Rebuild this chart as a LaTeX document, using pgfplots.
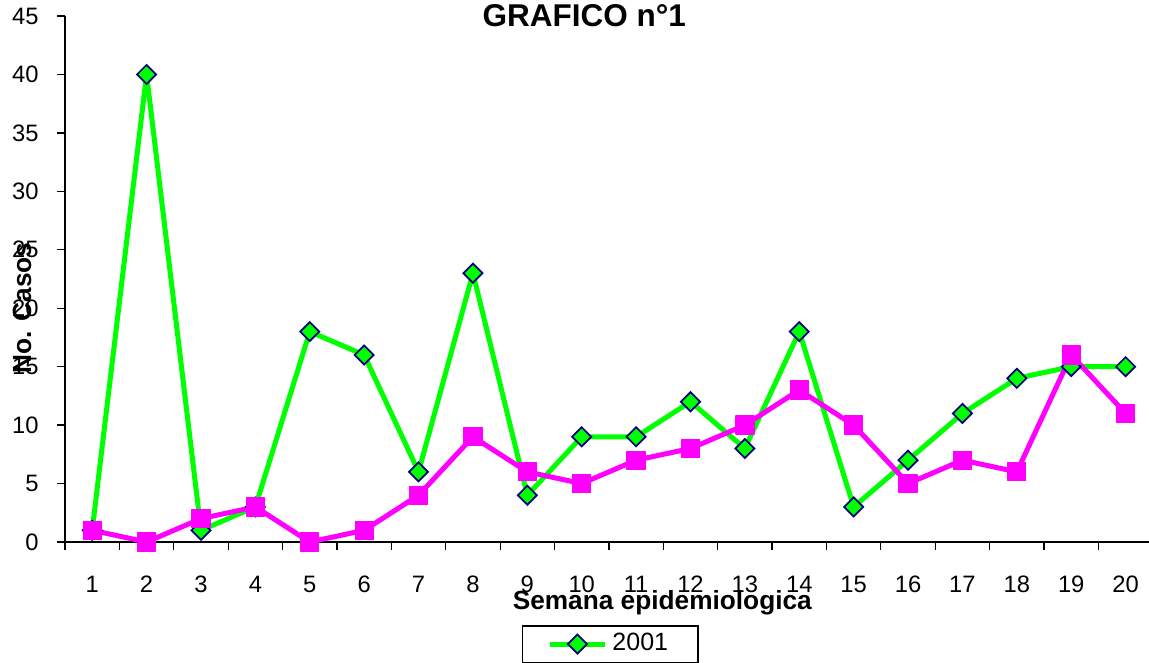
\documentclass[border=0pt]{standalone}
\usepackage{fontspec}
\setmainfont{Liberation Sans}
\usepackage{pgfplots}
\pgfplotsset{compat=1.18}
\definecolor{verde}{RGB}{0,255,0}
\definecolor{navy}{RGB}{0,0,128}
\definecolor{fucsia}{RGB}{255,0,255}

\begin{document}
\begin{tikzpicture}
\begin{axis}[
    at={(0pt,0pt)}, anchor=south west,
    scale only axis, width=433.6pt, height=210.4pt,
    xmin=0.5, xmax=20.43, ymin=0, ymax=45,
    clip=false,
    axis x line=bottom, axis y line=left,
    axis line style={-, black, line width=0.5pt},
    xtick={1,...,20},
    minor xtick={0.5,1.5,...,19.5},
    major x tick style={draw=none},
    ytick={0,5,...,45},
    tick align=outside,
    major tick length=3pt, minor tick length=3pt,
    tick style={black, line width=0.5pt},
    /pgf/number format/assume math mode=true,
    tick label style={font=\fontsize{9.5}{11}\selectfont},
    x tick label style={yshift=-7pt},
    y tick label style={xshift=-4pt},
    legend style={at={(0.503,-0.194)}, anchor=center, draw=black,
        line width=0.5pt, inner xsep=10pt, inner ysep=1pt,
        font=\fontsize{10}{12}\selectfont},
    legend image code/.code={
        \draw[#1, mark repeat=2, mark phase=2]
            plot coordinates {(0pt,0pt) (11pt,0pt) (22pt,0pt)};},
]
\addplot[color=verde, line width=2pt, line join=round, mark=square*,
    mark size=2.7pt,
    mark options={rotate=45, fill=verde, draw=navy, line width=0.7pt, line join=miter}]
    coordinates {(1,1)(2,40)(3,1)(4,3)(5,18)(6,16)(7,6)(8,23)(9,4)(10,9)
                 (11,9)(12,12)(13,8)(14,18)(15,3)(16,7)(17,11)(18,14)(19,15)(20,15)};
\addlegendentry{2001}
\addplot[color=fucsia, line width=2pt, line join=round, mark=square*, mark size=3.6pt,
    mark options={fill=fucsia, draw=fucsia, line width=0.5pt}, forget plot]
    coordinates {(1,1)(2,0)(3,2)(4,3)(5,0)(6,1)(7,4)(8,9)(9,6)(10,5)
                 (11,7)(12,8)(13,10)(14,13)(15,10)(16,5)(17,7)(18,6)(19,16)(20,11)};
\node[font=\bfseries\fontsize{12.6}{15}\selectfont, anchor=center]
    at (rel axis cs:0.479,1) {GRAFICO n°1};
\node[font=\bfseries\fontsize{10.5}{12}\selectfont, rotate=90, anchor=center]
    at ([xshift=-17.2pt]rel axis cs:0,0.445) {No. Casos};
\node[font=\bfseries\fontsize{10.5}{12}\selectfont, anchor=center]
    at ([yshift=-24.4pt]rel axis cs:0.551,0) {Semana epidemiologica};
\end{axis}
\pgfresetboundingbox
\useasboundingbox (-26pt,-48pt) rectangle (433.6pt,216.8pt);
\end{tikzpicture}
\end{document}
